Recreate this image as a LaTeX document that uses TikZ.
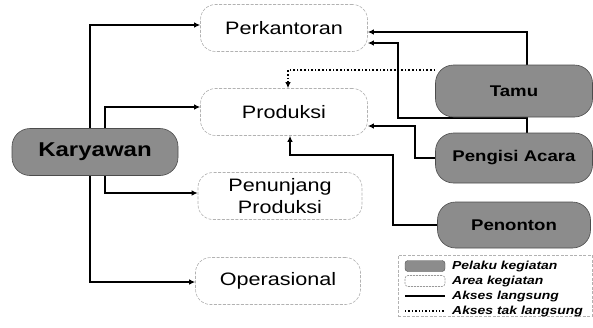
\documentclass[tikz,border=0pt]{standalone}
\usepackage{fontspec}
\setmainfont{Liberation Sans}
\newfontfamily\widefont[FakeStretch=1.2]{Liberation Sans}
\usetikzlibrary{arrows.meta,backgrounds}
\begin{document}
\begin{tikzpicture}[x=1pt,y=-1pt,
  areabox/.style={draw=gray!60, dash pattern=on 3pt off 1.5pt, line width=0.6pt, rounded corners=15pt, fill=white,
    minimum width=167pt, minimum height=47pt, inner sep=2pt, align=center, font=\widefont\fontsize{18}{22}\selectfont},
  actor/.style={draw=black!70, line width=0.6pt, fill=black!45, rounded corners=18pt,
    minimum width=157pt, minimum height=49pt, inner sep=2pt, text=black, font=\widefont\bfseries\fontsize{15.5}{18}\selectfont},
  conn/.style={line width=1.6pt, -{Latex[length=6pt,width=5.5pt]}},
  dconn/.style={line width=1.6pt, dotted, -{Latex[length=6pt,width=5.5pt]}},
  legtext/.style={anchor=west, inner sep=0pt, font=\widefont\bfseries\itshape\fontsize{11.6}{13}\selectfont}
]
\useasboundingbox (0,0) rectangle (593,327);
% area nodes
\node[areabox] (perk) at (284,28) {Perkantoran};
\node[areabox] (prod) at (284,112) {Produksi};
\node[areabox, minimum width=164pt] (penunj) at (280,196) {Penunjang\\Produksi};
\node[areabox, minimum width=165pt] (oper) at (278,281) {Operasional};
% actors
\node[actor, minimum width=166pt, minimum height=47pt, font=\widefont\bfseries\fontsize{20}{22}\selectfont] (kary) at (95,152) {Karyawan};
\node[actor, minimum height=52pt] (tamu) at (514,91) {Tamu};
\node[actor, minimum height=50pt] (peng) at (514,158) {Pengisi Acara};
\node[actor, minimum width=153pt, minimum height=46pt] (peno) at (514,225) {Penonton};
% helper coordinates
\coordinate (pk1) at (398,118);
\coordinate (pg1) at (415,126);
\coordinate (pn1) at (393,155);
\begin{pgfonlayer}{background}
% Karyawan connectors
\draw[conn] ([xshift=-5pt]kary.north) |- ([yshift=3pt]perk.west);
\draw[conn] ([xshift=10pt]kary.north) |- ([yshift=5pt]prod.west);
\draw[conn] ([xshift=10pt]kary.south) |- ([yshift=3pt]penunj.west);
\draw[conn] ([xshift=-5pt]kary.south) |- ([yshift=-1pt]oper.west);
% right-side actors
\draw[conn] ([xshift=13pt]tamu.north) |- ([yshift=-4pt]perk.east);
\draw[conn] ([xshift=13pt]peng.north) |- (pk1) |- ([yshift=-15pt]perk.east);
\draw[conn] (peng.west) -| (pg1) -- (pg1 -| prod.east);
\draw[conn] (peno.west) -| (pn1) -| ([xshift=6pt]prod.south);
\draw[dconn] ([yshift=21pt]tamu.west) -| ([xshift=4pt]prod.north);
\end{pgfonlayer}
% legend
\node[draw=gray!60, dash pattern=on 3pt off 1.5pt, line width=0.5pt, minimum width=194pt, minimum height=61pt, inner sep=0pt] (leg) at (495,285.5) {};
\node[draw=black!70, fill=black!45, rounded corners=3pt, minimum width=40pt, minimum height=11pt, inner sep=0pt] (sw1) at (425,266) {};
\node[draw=gray!80, dash pattern=on 2pt off 1pt, line width=0.6pt, rounded corners=3pt, minimum width=40pt, minimum height=11pt, inner sep=0pt] (sw2) at (425,281) {};
\coordinate (sw3a) at (405,296);
\coordinate (sw3b) at (445,296);
\coordinate (sw4a) at (405,311);
\coordinate (sw4b) at (445,311);
\draw[line width=1.4pt] (sw3a) -- (sw3b);
\draw[line width=1.4pt, dotted] (sw4a) -- (sw4b);
\node[legtext] (l1) at (452,266) {Pelaku kegiatan};
\node[legtext] (l2) at (452,281) {Area kegiatan};
\node[legtext] (l3) at (452,296) {Akses langsung};
\node[legtext] (l4) at (452,311) {Akses tak langsung};
\end{tikzpicture}
\end{document}
